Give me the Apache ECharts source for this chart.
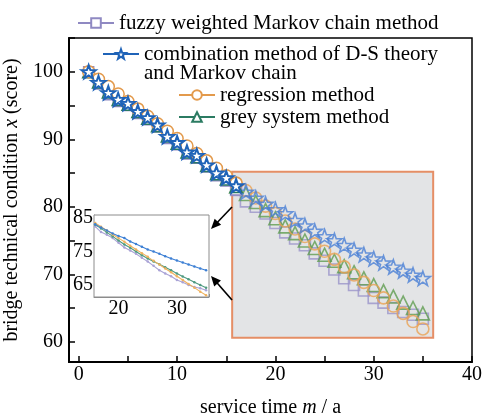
<!DOCTYPE html>
<html>
<head>
<meta charset="utf-8">
<script src="https://cdn.jsdelivr.net/npm/echarts@6/dist/echarts.min.js"></script>
<style>
  html, body { margin: 0; padding: 0; background: #fff; }
  #chart { width: 484px; height: 416px; }
</style>
</head>
<body>
<div id="chart"></div>
<script>
// Service time (years) and predicted bridge condition scores per method
const serviceYears = [1, 2, 3, 4, 5, 6, 7, 8, 9, 10, 11, 12, 13, 14, 15, 16, 17, 18,
  19, 20, 21, 22, 23, 24, 25, 26, 27, 28, 29, 30, 31, 32, 33, 34, 35];

const fuzzyWeighted = [100, 98.2, 96.6, 95.6, 95.0, 93.8, 92.9, 91.8, 90.1, 89.2, 87.8, 87.2,
  85.9, 84.6, 83.8, 82.5, 80.8, 80.0, 79.0, 77.6, 76.2, 75.3, 74.3, 73.1, 72.0, 70.7, 69.4,
  68.4, 67.6, 66.5, 65.8, 65.0, 64.4, 64.0, 63.4];

const dsCombination = [100, 98.4, 96.9, 95.9, 95.3, 94.1, 93.2, 92.1, 90.4, 89.5, 88.1, 87.6,
  86.2, 85.0, 84.3, 83.1, 82.2, 81.3, 80.4, 79.6, 79.0, 78.0, 77.2, 76.4, 75.6, 75.0, 74.3,
  73.6, 72.9, 72.3, 71.7, 71.1, 70.5, 69.9, 69.4];

const regression = [100, 98.9, 97.8, 96.7, 95.6, 94.5, 93.4, 92.3, 91.2, 90.1, 89.0, 87.9,
  86.8, 85.7, 84.6, 83.5, 82.4, 81.3, 80.1, 79.0, 77.9, 76.7, 75.6, 74.5, 73.4, 72.2, 71.1,
  69.9, 68.8, 67.6, 66.5, 65.3, 64.2, 63.0, 61.9];

const greySystem = [100, 98.5, 97.0, 95.9, 95.2, 94.1, 93.1, 92.0, 90.5, 89.4, 88.1, 87.4,
  86.1, 84.9, 84.1, 83.0, 81.9, 80.7, 79.5, 78.3, 77.1, 76.1, 75.0, 73.9, 72.9, 72.0, 71.2,
  70.3, 69.4, 68.4, 67.5, 66.7, 65.8, 65.0, 64.2];

// Tick labels shown on the main and inset axes
const mainXLabels = [0, 10, 20, 30, 40];
const mainYLabels = [60, 70, 80, 90, 100];
const insetXLabels = [20, 30];
const insetYLabels = [65, 75, 85];

// First year of the magnified (shaded) period
const detailStartYear = 16;

const NAMES = {
  fuzzy: 'fuzzy weighted Markov chain method',
  ds: 'combination method of D-S theory\nand Markov chain',
  reg: 'regression method',
  grey: 'grey system method'
};

const FONT = '"Liberation Serif", "Times New Roman", serif';
const STAR = 'path://M0,-10 L2.35,-3.24 L9.51,-3.09 L3.8,1.24 L5.88,8.09 L0,4 L-5.88,8.09 L-3.8,1.24 L-9.51,-3.09 L-2.35,-3.24 Z';

const pairs = (vals, from, to) => serviceYears.slice(from, to).map((m, i) => [m, vals[from + i]]);
const split = serviceYears.indexOf(detailStartYear);

const methods = [
  { key: 'fuzzy', vals: fuzzyWeighted, color: '#8f89c2', detail: '#9a93c9', inset: '#aaa3d6', symbol: 'rect', size: 10, detailSize: 11 },
  { key: 'grey', vals: greySystem, color: '#2b7b62', detail: '#5f9c50', inset: '#4f9a80', symbol: 'triangle', size: 12, detailSize: 13 },
  { key: 'reg', vals: regression, color: '#e39a4c', detail: '#eaa255', inset: '#f0b25e', symbol: 'circle', size: 12, detailSize: 12 },
  { key: 'ds', vals: dsCombination, color: '#1f63b8', detail: '#4a80d6', inset: '#3c7fd4', symbol: STAR, size: 14, detailSize: 15 }
];

const series = [];

// Shaded frame around the magnified period
series.push({
  type: 'line', name: 'zoomFrame', data: [], z: 1, silent: true,
  markArea: {
    silent: true,
    itemStyle: { color: '#e3e4e6', borderColor: '#e58e66', borderWidth: 2 },
    data: [[{ xAxis: 15.6, yAxis: 85.2 }, { xAxis: 36.05, yAxis: 60.6 }]]
  }
});

// Full-colour lines for the early years
methods.forEach(s => {
  const star = s.symbol === STAR;
  series.push({
    type: 'line', name: NAMES[s.key], z: 4,
    data: pairs(s.vals, 0, split + 1),
    symbol: s.symbol, symbolSize: s.size, symbolKeepAspect: true,
    lineStyle: { color: s.color, width: star ? 3 : 2 },
    itemStyle: { color: '#fff', borderColor: s.color, borderWidth: star ? 2 : 1.5 },
    emphasis: { disabled: true }
  });
});

// Hollow markers inside the shaded period
methods.forEach(s => {
  series.push({
    type: 'scatter', name: NAMES[s.key], z: 3,
    data: pairs(s.vals, split, serviceYears.length),
    symbol: s.symbol, symbolSize: s.detailSize, symbolKeepAspect: true,
    itemStyle: { color: 'rgba(0,0,0,0)', borderColor: s.detail, borderWidth: 1.6 },
    emphasis: { disabled: true }
  });
});

// Inset overview of the shaded period
methods.forEach(s => {
  series.push({
    type: 'line', name: NAMES[s.key], z: 5, xAxisIndex: 1, yAxisIndex: 1,
    data: pairs(s.vals, split, serviceYears.length),
    symbol: 'circle', symbolSize: 2.5,
    lineStyle: { color: s.inset, width: 1.1 },
    itemStyle: { color: s.inset },
    emphasis: { disabled: true }
  });
});

function arrow(x1, y1, x2, y2) {
  const dx = x2 - x1, dy = y2 - y1, len = Math.hypot(dx, dy);
  const ux = dx / len, uy = dy / len, hl = 10, hw = 4.5;
  const bx = x2 - ux * hl, by = y2 - uy * hl;
  return [
    { type: 'line', z: 20, shape: { x1, y1, x2: bx + ux * 2, y2: by + uy * 2 }, style: { stroke: '#000', lineWidth: 1.6 } },
    { type: 'polygon', z: 20, shape: { points: [[x2, y2], [bx - uy * hw, by + ux * hw], [bx + uy * hw, by - ux * hw]] }, style: { fill: '#000' } }
  ];
}

const legendBase = {
  orient: 'horizontal', padding: 0, itemWidth: 36, itemHeight: 12, selectedMode: false,
  textStyle: { fontFamily: FONT, fontSize: 21, color: '#000' }
};

const option = {
  animation: false,
  backgroundColor: '#fff',
  legend: [
    Object.assign({}, legendBase, { left: 77, top: 12.5, data: [NAMES.fuzzy] }),
    // leading blank line keeps the icon beside the first text line
    Object.assign({}, legendBase, { left: 102, top: 24.5, data: [NAMES.ds],
      formatter: name => ' \n' + name,
      textStyle: { fontFamily: FONT, fontSize: 21, color: '#000', lineHeight: 19 } }),
    Object.assign({}, legendBase, { left: 178, top: 84.5, data: [NAMES.reg] }),
    Object.assign({}, legendBase, { left: 178, top: 106.5, data: [NAMES.grey] })
  ],
  grid: [
    { left: 69, right: 12, top: 38, bottom: 54, outerBoundsMode: 'none', containLabel: false,
      show: true, borderColor: '#000', borderWidth: 1.5, backgroundColor: 'transparent' },
    { left: 94, top: 215, width: 115, height: 82, outerBoundsMode: 'none', containLabel: false,
      show: true, borderColor: '#8c8c8c', borderWidth: 1, backgroundColor: '#fff', z: 2 }
  ],
  xAxis: [
    {
      type: 'value', gridIndex: 0, min: -1, max: 40, splitNumber: 8,
      name: '{n|service time }{i|m}{n| / a}', nameLocation: 'middle', nameGap: 36,
      nameTextStyle: { rich: {
        n: { fontFamily: FONT, fontSize: 20, color: '#000' },
        i: { fontFamily: FONT, fontSize: 20, color: '#000', fontStyle: 'italic' } } },
      axisLine: { onZero: false, lineStyle: { color: '#000', width: 2 } },
      axisTick: { inside: true, length: 6, lineStyle: { color: '#000', width: 1.5 } },
      axisLabel: { margin: 3, fontFamily: FONT, fontSize: 20, color: '#000',
        formatter: v => mainXLabels.includes(Math.round(v * 100) / 100) ? String(Math.abs(v)) : '' },
      splitLine: { show: false }
    },
    {
      type: 'value', gridIndex: 1, min: 15.8, max: 35.5, splitNumber: 4,
      axisLine: { lineStyle: { color: '#8c8c8c', width: 1 } },
      axisTick: { inside: true, length: 3, lineStyle: { color: '#8c8c8c' } },
      axisLabel: { margin: 2, fontFamily: FONT, fontSize: 20, color: '#000',
        formatter: v => insetXLabels.includes(v) ? String(v) : '' },
      splitLine: { show: false }
    }
  ],
  yAxis: [
    {
      type: 'value', gridIndex: 0, min: 57, max: 105, splitNumber: 10,
      name: '{n|bridge technical condition }{i|x}{n| (score)}', nameLocation: 'middle', nameGap: 45,
      nameTextStyle: { rich: {
        n: { fontFamily: FONT, fontSize: 20, color: '#000' },
        i: { fontFamily: FONT, fontSize: 20, color: '#000', fontStyle: 'italic' } } },
      axisLine: { onZero: false, lineStyle: { color: '#000', width: 2 } },
      axisTick: { inside: true, length: 6, lineStyle: { color: '#000', width: 1.5 } },
      axisLabel: { margin: 6, fontFamily: FONT, fontSize: 20, color: '#000',
        formatter: v => mainYLabels.includes(v) ? String(v) : '' },
      splitLine: { show: false }
    },
    {
      type: 'value', gridIndex: 1, min: 61.4, max: 85.9, splitNumber: 5,
      axisLine: { lineStyle: { color: '#8c8c8c', width: 1 } },
      axisTick: { inside: true, length: 3, lineStyle: { color: '#8c8c8c' } },
      axisLabel: { margin: 1, fontFamily: FONT, fontSize: 20, color: '#000',
        formatter: v => insetYLabels.includes(v) ? String(v) : '' },
      splitLine: { show: false }
    }
  ],
  graphic: [].concat(arrow(232, 207, 211, 229), arrow(232, 300, 211, 276)),
  series: series
};

const chart = echarts.init(document.getElementById('chart'), null, { renderer: 'canvas' });
chart.setOption(option);
</script>
</body>
</html>
